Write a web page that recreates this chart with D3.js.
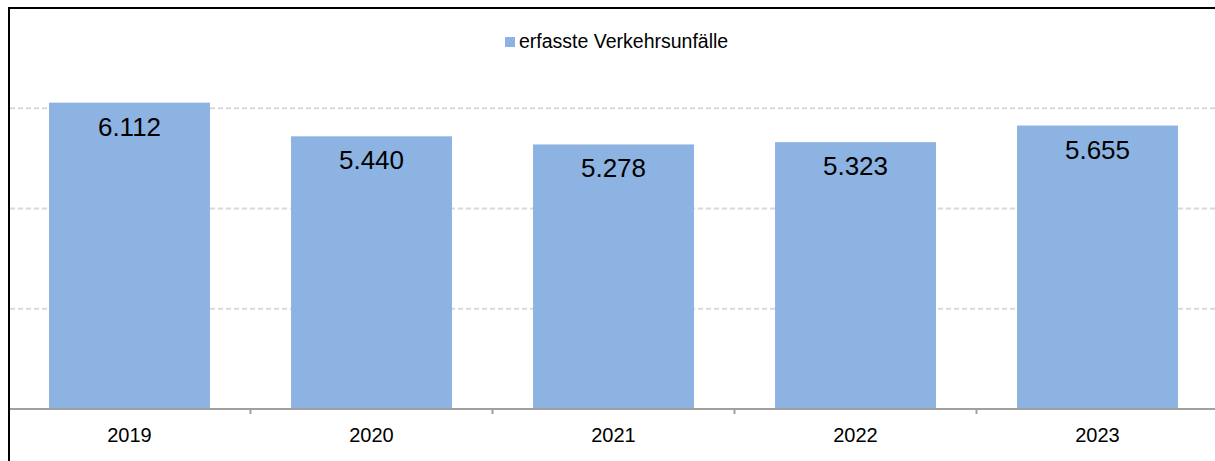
<!DOCTYPE html>
<html lang="de">
<head>
	<meta charset="utf-8">
	<script src="https://d3js.org/d3.v7.min.js"></script>
	<style>
		body { margin: 0; background: #fff; }
		text { font-family: Arial, "Liberation Sans", sans-serif; fill: #000; }
	</style>
</head>
<body>
	<script type="text/javascript">

		// data
		var years = ["2019", "2020", "2021", "2022", "2023"];
		var unfaelle = [6112, 5440, 5278, 5323, 5655];
		var gridValues = [2000, 4000, 6000];
		var seriesName = "erfasste Verkehrsunfälle";

		var svgWidth = 1215;
		var svgHeight = 461;
		var barColor = "#8db3e2";

		// plot area
		var plotLeft = 8.5, plotRight = 1218.5;
		var plotTop = 8, plotBottom = 409;

		var svg = d3.select("body")
			.append("svg")
			.attr("width", svgWidth)
			.attr("height", svgHeight);

		var x = d3.scaleBand()
			.domain(years)
			.range([plotLeft, plotRight])
			.paddingInner(0.335)
			.paddingOuter(0.1675);

		var y = d3.scaleLinear()
			.domain([0, 8000])
			.range([plotBottom, plotTop]);

		// dashed gridlines
		svg.selectAll("line.grid")
			.data(gridValues)
			.enter()
			.append("line")
				.attr("class", "grid")
				.attr("x1", 10)
				.attr("x2", svgWidth)
				.attr("y1", function(d) { return y(d); })
				.attr("y2", function(d) { return y(d); })
				.attr("stroke", "#d9d9d9")
				.attr("stroke-width", 2)
				.attr("stroke-dasharray", "5,3");

		// bars
		svg.selectAll("rect.bar")
			.data(unfaelle)
			.enter()
			.append("rect")
				.attr("class", "bar")
				.attr("x", function(d, i) { return x(years[i]); })
				.attr("y", function(d) { return y(d); })
				.attr("width", x.bandwidth())
				.attr("height", function(d) { return y(0) - y(d); })
				.attr("fill", barColor);

		// value labels (german thousands separator)
		var fmt = d3.formatLocale({ decimal: ",", thousands: ".", grouping: [3], currency: ["", " €"] }).format(",d");

		svg.selectAll("text.value")
			.data(unfaelle)
			.enter()
			.append("text")
				.attr("class", "value")
				.attr("x", function(d, i) { return x(years[i]) + x.bandwidth() / 2; })
				.attr("y", function(d) { return y(d) + 33; })
				.attr("text-anchor", "middle")
				.style("font-size", "26px")
				.text(function(d) { return fmt(d); });

		// x axis
		var xAxis = svg.append("g")
			.attr("transform", "translate(0," + plotBottom + ")");

		xAxis.append("line")
			.attr("x1", 10)
			.attr("x2", svgWidth)
			.attr("y1", 0)
			.attr("y2", 0)
			.attr("stroke", "#a0a0a0")
			.attr("stroke-width", 2);

		var step = x.step();
		xAxis.selectAll("line.tick")
			.data(years.slice(1))
			.enter()
			.append("line")
				.attr("class", "tick")
				.attr("x1", function(d) { return x(d) - (step - x.bandwidth()) / 2; })
				.attr("x2", function(d) { return x(d) - (step - x.bandwidth()) / 2; })
				.attr("y1", 0)
				.attr("y2", 5)
				.attr("stroke", "#a0a0a0")
				.attr("stroke-width", 2);

		xAxis.selectAll("text.year")
			.data(years)
			.enter()
			.append("text")
				.attr("class", "year")
				.attr("x", function(d) { return x(d) + x.bandwidth() / 2; })
				.attr("y", 33)
				.attr("text-anchor", "middle")
				.style("font-size", "20px")
				.text(function(d) { return d; });

		// legend
		var legend = svg.append("g");
		legend.append("rect")
			.attr("x", 505)
			.attr("y", 37)
			.attr("width", 10)
			.attr("height", 10)
			.attr("fill", barColor);
		legend.append("text")
			.attr("x", 519)
			.attr("y", 48)
			.style("font-size", "19.5px")
			.text(seriesName);

		// outer frame (top and left visible)
		svg.append("path")
			.attr("d", "M9," + svgHeight + "V8H" + svgWidth)
			.attr("fill", "none")
			.attr("stroke", "#000")
			.attr("stroke-width", 2);

	</script>
</body>
</html>
